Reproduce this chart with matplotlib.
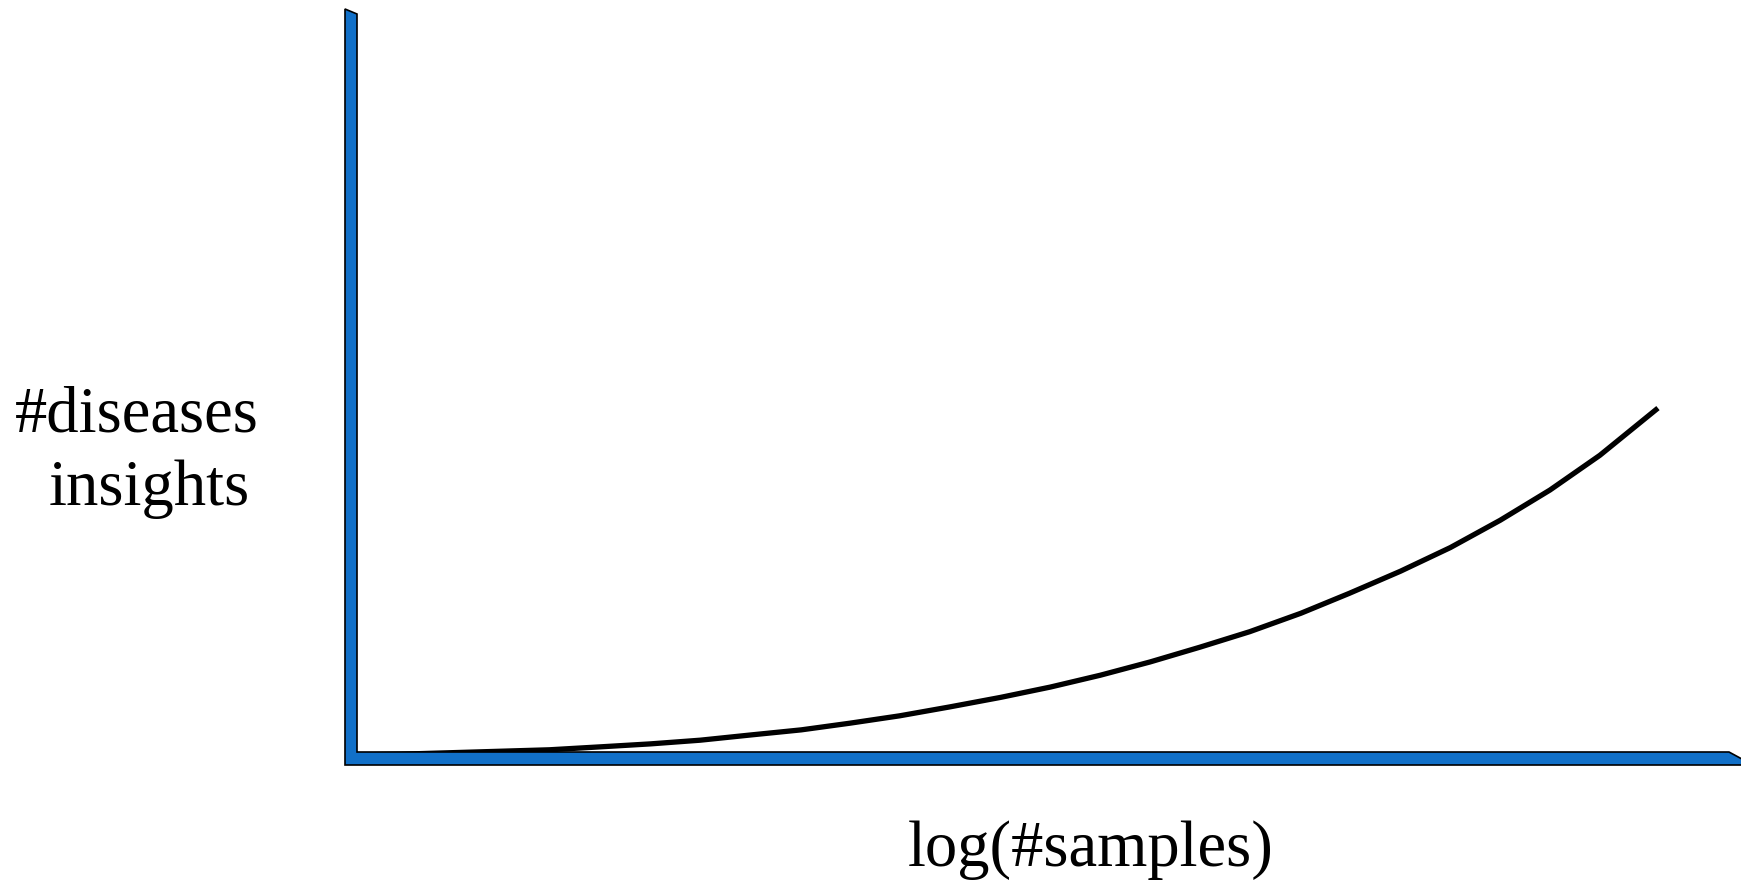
import matplotlib.pyplot as plt
from matplotlib.patches import Polygon

# curve (x: log #samples, y: #diseases insights, arbitrary units)
log_samples = [-0.03, 0.31, 0.67, 1.03, 1.39, 1.76, 2.12, 2.48, 2.84, 3.21, 3.56, 3.92, 4.28, 4.65,
               5.01, 5.37, 5.73, 6.09, 6.45, 6.82, 7.17, 7.54, 7.90, 8.26, 8.62, 8.98, 9.40]
insights = [-0.04, -0.03, -0.01, 0.01, 0.03, 0.07, 0.11, 0.16, 0.23, 0.30, 0.39, 0.49, 0.61, 0.74,
            0.88, 1.04, 1.22, 1.42, 1.63, 1.88, 2.15, 2.45, 2.77, 3.14, 3.55, 4.02, 4.66]

W, H = 1741, 880
blue = '#1170c8'


def px(x, y):
    # pixel position -> figure fraction
    return (x / W, 1 - y / H)


fig = plt.figure(figsize=(W / 100, H / 100), dpi=100)
ax = fig.add_axes([357 / W, (H - 752) / H, (W - 357) / W, (752 - 14) / H])
ax.set_xlim(0, 10)
ax.set_ylim(0, 10)
ax.axis('off')

# blue L-shaped axis bars, one outline
axes_shape = Polygon([px(345, 765), px(345, 9), px(357, 14), px(357, 752),
                      px(1729, 752), px(1753, 765)],
                     closed=True, transform=fig.transFigure, facecolor=blue,
                     edgecolor='black', linewidth=1.2, zorder=1)
fig.patches.append(axes_shape)

ax.plot(log_samples, insights, color='black', linewidth=3.8, clip_on=False,
        solid_capstyle='butt', solid_joinstyle='round', zorder=3)

font = dict(family='Liberation Serif', fontsize=46.5, color='black')
fig.text(*px(15, 431), '#diseases', ha='left', va='baseline', **font)
fig.text(*px(49, 505), 'insights', ha='left', va='baseline', **font)
fig.text(*px(1091, 866), 'log(#samples)', ha='center', va='baseline', **font)

fig.savefig('out.png', dpi=100)
